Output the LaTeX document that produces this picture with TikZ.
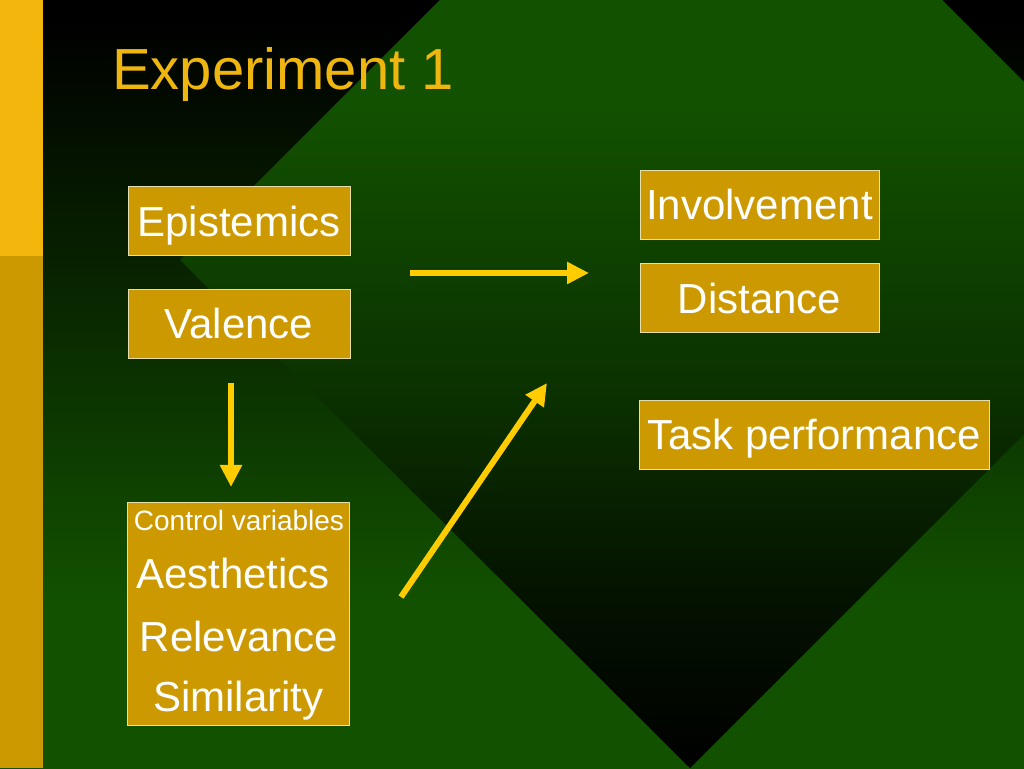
\documentclass[tikz,border=0pt]{standalone}
\usepackage{fontspec}
\setmainfont{Liberation Sans}
\usetikzlibrary{arrows.meta}
\definecolor{sgreen}{RGB}{18,81,0}
\definecolor{bartop}{RGB}{242,182,12}
\definecolor{barbot}{RGB}{204,153,0}
\definecolor{boxfill}{RGB}{204,153,0}
\definecolor{boxline}{RGB}{230,222,170}
\definecolor{arrowy}{RGB}{255,204,0}
\definecolor{titlec}{RGB}{240,182,16}
\colorlet{dmA}{sgreen!22!black}
\colorlet{dmB}{sgreen!62!black}
\pgfdeclareverticalshading{bgshade}{100bp}{color(0bp)=(sgreen); color(35.9bp)=(sgreen); color(73.6bp)=(black); color(100bp)=(black)}
\pgfdeclareverticalshading{dmshade}{100bp}{color(0bp)=(black); color(25bp)=(black); color(36bp)=(dmA); color(50bp)=(dmB); color(68bp)=(sgreen); color(100bp)=(sgreen)}
\begin{document}
\begin{tikzpicture}[x=1pt,y=1pt,
  box/.style={draw=boxline, line width=1pt, fill=boxfill, text=white, inner sep=0pt,
    minimum height=69pt, text height=35pt, text depth=5pt, font=\fontsize{42}{50}\selectfont},
  bigtxt/.style={text=white, inner sep=0pt, anchor=base, font=\fontsize{42}{50}\selectfont},
  arr/.style={draw=arrowy, line width=6pt, -{Triangle[length=22pt,width=21pt]}}]
\useasboundingbox (0,0) rectangle (1024,768);
\shade[shading=bgshade] (0,0) rectangle (1024,768);
\begin{scope}
  \clip (691,1019) -- (1200,510) -- (690,0) -- (180,508) -- cycle;
  \shade[shading=dmshade] (0,0) rectangle (1024,768);
\end{scope}
\fill[bartop] (0,512) rectangle (43,768);
\fill[barbot] (0,0) rectangle (43,512);
\node[anchor=base west, inner sep=0pt, text=titlec, font=\fontsize{58}{60}\selectfont] (title) at (112,678) {Experiment 1};
\node[box, minimum width=222pt] (epi) at (239,546.5) {Epistemics};
\node[box, minimum width=222pt] (val) at (239,444) {Valence};
\node[box, minimum width=239pt] (inv) at (759.5,563) {Involvement};
\node[box, minimum width=239pt] (dis) at (759.5,469.5) {Distance};
\node[box, minimum width=350pt] (task) at (814,333) {Task performance};
\node[box, minimum width=222pt, minimum height=222pt] (ctrl) at (238,154) {};
\node[bigtxt, font=\fontsize{28}{30}\selectfont] (cv) at (239,237) {Control variables};
\node[bigtxt] (aes) at (233,179) {Aesthetics};
\node[bigtxt] (rel) at (239,117) {Relevance};
\node[bigtxt] (sim) at (238.5,57) {Similarity};
\coordinate (h1) at (410,495);
\coordinate (h2) at (589,495);
\coordinate (v1) at (231,385);
\coordinate (v2) at (231,281);
\coordinate (d1) at (401,171);
\coordinate (d2) at (547,385);
\draw[arr] (h1) -- (h2);
\draw[arr] (v1) -- (v2);
\draw[arr] (d1) -- (d2);
\end{tikzpicture}
\end{document}
